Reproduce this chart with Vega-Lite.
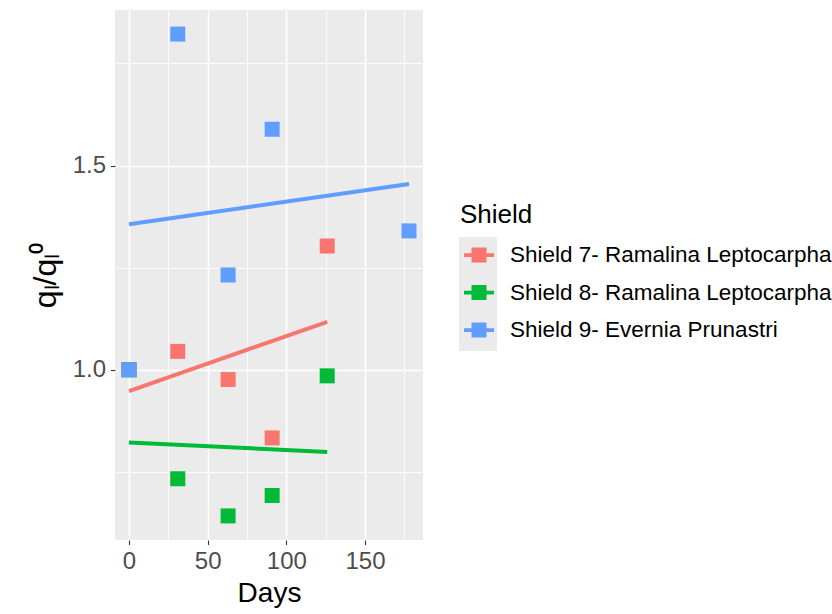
{
  "$schema": "https://vega.github.io/schema/vega-lite/v6.json",
  "width": 308,
  "height": 530,
  "autosize": {"type": "none"},
  "padding": {"left": 115, "top": 10, "right": 409, "bottom": 74},
  "background": "white",
  "datasets": {
    "obs": [
      {"Shield": "Shield 7- Ramalina Leptocarpha", "Days": 0, "q": 1.0},
      {"Shield": "Shield 7- Ramalina Leptocarpha", "Days": 31, "q": 1.045},
      {"Shield": "Shield 7- Ramalina Leptocarpha", "Days": 63, "q": 0.976},
      {"Shield": "Shield 7- Ramalina Leptocarpha", "Days": 91, "q": 0.833},
      {"Shield": "Shield 7- Ramalina Leptocarpha", "Days": 126, "q": 1.303},
      {"Shield": "Shield 8- Ramalina Leptocarpha", "Days": 0, "q": 1.0},
      {"Shield": "Shield 8- Ramalina Leptocarpha", "Days": 31, "q": 0.733},
      {"Shield": "Shield 8- Ramalina Leptocarpha", "Days": 63, "q": 0.642},
      {"Shield": "Shield 8- Ramalina Leptocarpha", "Days": 91, "q": 0.692},
      {"Shield": "Shield 8- Ramalina Leptocarpha", "Days": 126, "q": 0.985},
      {"Shield": "Shield 9- Evernia Prunastri", "Days": 0, "q": 1.0},
      {"Shield": "Shield 9- Evernia Prunastri", "Days": 31, "q": 1.822},
      {"Shield": "Shield 9- Evernia Prunastri", "Days": 63, "q": 1.232},
      {"Shield": "Shield 9- Evernia Prunastri", "Days": 91, "q": 1.589},
      {"Shield": "Shield 9- Evernia Prunastri", "Days": 178, "q": 1.34}
    ],
    "keys": [
      {"Key": "Shield 7- Ramalina Leptocarpha"},
      {"Key": "Shield 8- Ramalina Leptocarpha"},
      {"Key": "Shield 9- Evernia Prunastri"}
    ]
  },
  "layer": [
    {
      "data": {"name": "keys"},
      "mark": {"type": "point", "filled": true, "color": "#EBEBEB", "opacity": 0},
      "encoding": {
        "shape": {
          "field": "Key", "type": "nominal",
          "scale": {"range": ["square", "square", "square"]},
          "legend": {
            "title": null,
            "orient": "none",
            "legendX": 344,
            "legendY": 227,
            "zindex": 0,
            "symbolType": "square",
            "symbolSize": 1444,
            "symbolFillColor": "#EBEBEB",
            "symbolStrokeColor": "#EBEBEB",
            "symbolStrokeWidth": 0,
            "symbolOpacity": 1,
            "rowPadding": 0,
            "labelExpr": "''",
            "labelFontSize": 1,
            "padding": 0
          }
        }
      }
    },
    {
      "data": {"name": "obs"},
      "encoding": {
        "x": {
          "field": "Days", "type": "quantitative",
          "scale": {"domain": [-8.9, 186.9], "nice": false, "zero": false},
          "axis": {
            "title": "Days",
            "values": [0, 25, 50, 75, 100, 125, 150, 175],
            "labelExpr": "datum.value % 50 === 0 ? datum.label : ''",
            "tickOpacity": {"condition": {"test": "datum.value % 50 === 0", "value": 1}, "value": 0},
            "gridWidth": {"condition": {"test": "datum.value % 50 === 0", "value": 1.6}, "value": 0.8}
          }
        },
        "y": {
          "field": "q", "type": "quantitative",
          "scale": {"domain": [0.583, 1.881], "nice": false, "zero": false},
          "axis": {
            "title": "qₗ/qₗ⁰",
            "titleFontSize": 32,
            "titlePadding": 10,
            "values": [0.75, 1.0, 1.25, 1.5, 1.75],
            "labelExpr": "datum.value % 0.5 === 0 ? format(datum.value, '.1f') : ''",
            "tickOpacity": {"condition": {"test": "datum.value % 0.5 === 0", "value": 1}, "value": 0},
            "gridWidth": {"condition": {"test": "datum.value % 0.5 === 0", "value": 1.6}, "value": 0.8}
          }
        },
        "color": {
          "field": "Shield", "type": "nominal",
          "scale": {
            "domain": ["Shield 7- Ramalina Leptocarpha", "Shield 8- Ramalina Leptocarpha", "Shield 9- Evernia Prunastri"],
            "range": ["#F8766D", "#00BA38", "#619CFF"]
          },
          "legend": {
            "title": "Shield",
            "orient": "none",
            "legendX": 345,
            "legendY": 192,
            "zindex": 1,
            "titleFontSize": 26,
            "titlePadding": 12,
            "labelFontSize": 22.5,
            "labelLimit": 500,
            "labelOffset": 16,
            "symbolOffset": 4,
            "symbolType": "M-1,-0.125L1,-0.125L1,0.125L-1,0.125Z M-0.5,-0.5L0.5,-0.5L0.5,0.5L-0.5,0.5Z",
            "symbolSize": 900,
            "symbolStrokeWidth": 0,
            "symbolOpacity": 1,
            "rowPadding": 10.5
          }
        }
      },
      "layer": [
        {
          "transform": [{"regression": "q", "on": "Days", "groupby": ["Shield"]}],
          "mark": {"type": "line", "strokeWidth": 4}
        },
        {
          "mark": {"type": "point", "shape": "square", "filled": true, "size": 225, "opacity": 1}
        }
      ]
    }
  ],
  "config": {
    "view": {"fill": "#EBEBEB", "stroke": null},
    "font": "Liberation Sans",
    "axis": {
      "domain": false,
      "grid": true,
      "gridColor": "#FFFFFF",
      "labelFont": "Liberation Sans",
      "labelFontSize": 24,
      "labelColor": "#4D4D4D",
      "tickColor": "#333333",
      "tickSize": 4.5,
      "tickWidth": 1.1,
      "labelPadding": 5,
      "titleFont": "Liberation Sans",
      "titleFontSize": 28,
      "titleFontWeight": "normal",
      "titleColor": "#000000"
    },
    "axisX": {"titlePadding": 6},
    "legend": {
      "titleFont": "Liberation Sans",
      "titleFontWeight": "normal",
      "titleColor": "#000000",
      "labelFont": "Liberation Sans",
      "labelColor": "#000000"
    }
  }
}
